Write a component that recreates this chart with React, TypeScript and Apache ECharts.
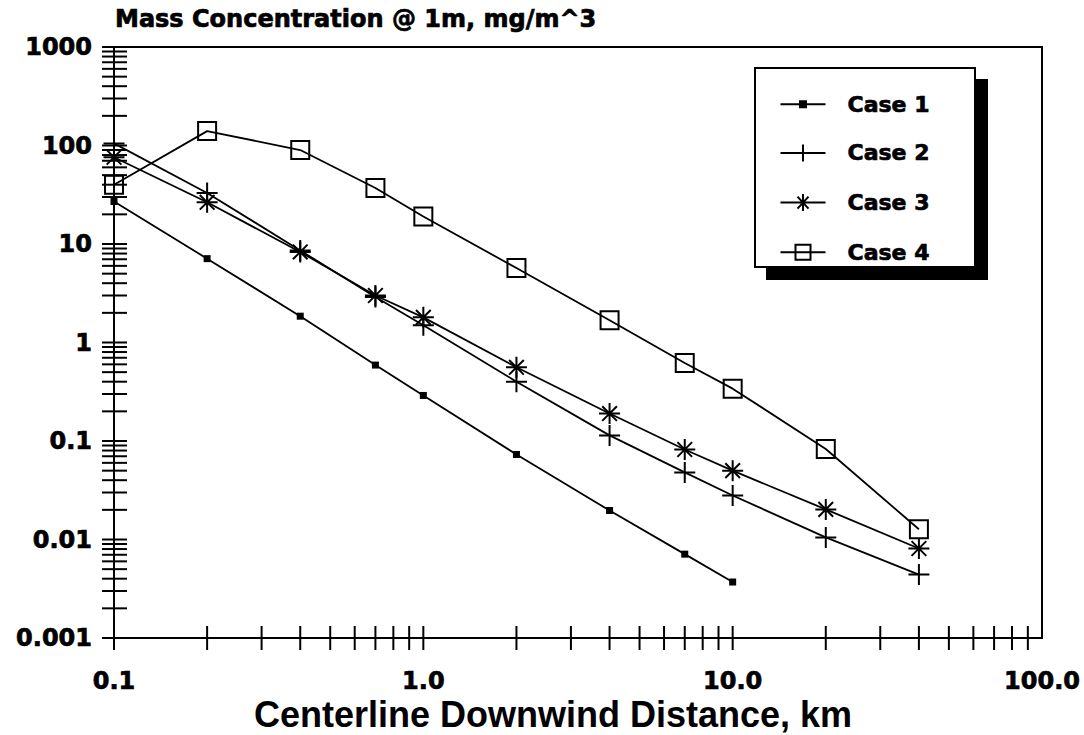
import React, { useEffect, useRef } from 'react';
import * as echarts from 'echarts';

// Downwind distance, km
const distances = [0.1, 0.2, 0.4, 0.7, 1.0, 2.0, 4.0, 7.0, 10, 20, 40];
// Mass concentration @ 1m, mg/m^3
const case1 = [27, 7.1, 1.85, 0.59, 0.29, 0.073, 0.0197, 0.0071, 0.0037];
const case2 = [105, 33, 8.6, 2.9, 1.5, 0.4, 0.114, 0.048, 0.028, 0.0105, 0.0044];
const case3 = [76, 26.5, 8.3, 3.0, 1.8, 0.56, 0.19, 0.082, 0.05, 0.0202, 0.0081];
const case4 = [40, 140, 90, 37, 19, 5.7, 1.68, 0.62, 0.34, 0.083, 0.0127];

const seriesNames = ['Case 1', 'Case 2', 'Case 3', 'Case 4'];
const xTickLabels = ['0.1', '1.0', '10.0', '100.0'];
const yTickLabels = ['0.001', '0.01', '0.1', '1', '10', '100', '1000'];
const xAxisTitle = 'Centerline Downwind Distance, km';
const chartTitle = 'Mass Concentration @ 1m, mg/m^3';

const X_MIN = 0.1;
const X_MAX = 100;
const Y_MIN = 0.001;
const Y_MAX = 1000;

const mantissas = [1, 2, 3, 4, 5, 6, 7, 8, 9];
const xDecades = [0.1, 1, 10];
const yDecades = [0.001, 0.01, 0.1, 1, 10, 100];

const BOLD_FONT = 'DejaVu Sans';
const heavy = { textBorderColor: '#000', textBorderWidth: 0.7 };

export default function App() {
  const ref = useRef<HTMLDivElement>(null);

  useEffect(() => {
    if (!ref.current) return;
    const chart = echarts.init(ref.current, undefined, { renderer: 'svg' });

    const xTicks = xDecades.flatMap((d) => mantissas.map((m) => m * d));
    const yTicks = [...yDecades.flatMap((d) => mantissas.map((m) => m * d)), Y_MAX];

    const pair = (vals: number[]) => vals.map((v, i) => [distances[i], v]);

    const plusPath = 'path://M0,10L20,10M10,0L10,20';
    const starPath = 'path://M10,0L10,20M0,10L20,10M3,3L17,17M17,3L3,17';

    const legendIcons = [
      'path://M0,0M62,20M0,10L45,10M19.5,7h6v6h-6z',
      'path://M0,0M62,20M0,10L45,10M22.5,1.5L22.5,18.5',
      'path://M0,0M62,20M0,10L45,10M22.5,1.5L22.5,18.5M17,4L28,16M28,4L17,16',
      'path://M0,0M62,20M0,10L45,10M15,2.5h15v15h-15z',
    ];

    const lineStyle = { color: '#000', width: 1.8 };

    const option: any = {
      animation: false,
      backgroundColor: '#fff',
      title: {
        text: chartTitle,
        left: 115,
        top: 7,
        padding: 0,
        textStyle: { fontFamily: BOLD_FONT, fontWeight: 'bold', fontSize: 24, color: '#000', ...heavy },
      },
      grid: {
        left: 114,
        right: 42,
        top: 47,
        bottom: 97,
        show: true,
        borderColor: '#000',
        borderWidth: 2,
        backgroundColor: 'transparent',
        containLabel: false,
        outerBoundsMode: 'none',
      },
      legend: {
        data: seriesNames.map((n, i) => ({
          name: n,
          icon: legendIcons[i],
          itemStyle: {
            color: i === 0 ? '#000' : 'none',
            borderColor: '#000',
            borderWidth: 2,
          },
        })),
        orient: 'vertical',
        left: 778,
        top: 93,
        padding: 0,
        itemWidth: 62,
        itemHeight: 20,
        itemGap: 24.7,
        selectedMode: false,
        z: 10,
        textStyle: {
          fontFamily: BOLD_FONT,
          fontWeight: 'bold',
          fontSize: 22,
          lineHeight: 20,
          color: '#000',
          ...heavy,
        },
      },
      graphic: [
        {
          type: 'rect',
          z: 5,
          shape: { x: 766, y: 79, width: 222, height: 201 },
          style: { fill: '#000' },
          silent: true,
        },
        {
          type: 'rect',
          z: 6,
          shape: { x: 755, y: 68, width: 220, height: 199 },
          style: { fill: '#fff', stroke: '#000', lineWidth: 2 },
          silent: true,
        },
        {
          type: 'text',
          z: 6,
          x: 553,
          y: 714,
          silent: true,
          style: {
            text: xAxisTitle,
            fontFamily: 'Liberation Sans',
            fontWeight: 'bold',
            fontSize: 36,
            fill: '#000',
            align: 'center',
            verticalAlign: 'middle',
            textAlign: 'center',
            textVerticalAlign: 'middle',
          },
        },
      ],
      xAxis: {
        type: 'log',
        logBase: 10,
        min: X_MIN,
        max: X_MAX,
        axisLine: { show: false },
        axisTick: { show: false },
        splitLine: { show: false },
        axisLabel: {
          margin: 31,
          fontFamily: BOLD_FONT,
          fontWeight: 'bold',
          fontSize: 24,
          lineHeight: 24,
          color: '#000',
          ...heavy,
          formatter: (v: number) => xTickLabels[Math.round(Math.log10(v / X_MIN))] ?? '',
        },
      },
      yAxis: {
        type: 'log',
        logBase: 10,
        min: Y_MIN,
        max: Y_MAX,
        axisLine: { show: false },
        axisTick: { show: false },
        splitLine: { show: false },
        axisLabel: {
          margin: 22,
          fontFamily: BOLD_FONT,
          fontWeight: 'bold',
          fontSize: 24,
          color: '#000',
          ...heavy,
          formatter: (v: number) => yTickLabels[Math.round(Math.log10(v / Y_MIN))] ?? '',
        },
      },
      series: [
        {
          name: 'Case 1',
          type: 'line',
          data: pair(case1),
          symbol: 'rect',
          symbolSize: 7,
          itemStyle: { color: '#000' },
          lineStyle,
          z: 3,
        },
        {
          name: 'Case 2',
          type: 'line',
          data: pair(case2),
          symbol: plusPath,
          symbolSize: 21,
          itemStyle: { color: 'none', borderColor: '#000', borderWidth: 2 },
          lineStyle,
          z: 3,
        },
        {
          name: 'Case 3',
          type: 'line',
          data: pair(case3),
          symbol: starPath,
          symbolSize: 21,
          itemStyle: { color: 'none', borderColor: '#000', borderWidth: 2 },
          lineStyle,
          z: 3,
        },
        {
          name: 'Case 4',
          type: 'line',
          data: pair(case4),
          symbol: 'rect',
          symbolSize: 18,
          itemStyle: { color: 'none', borderColor: '#000', borderWidth: 2 },
          lineStyle,
          z: 3,
        },
        {
          name: 'xticks',
          type: 'custom',
          silent: true,
          z: 4,
          data: xTicks.map((v) => [v, Y_MIN]),
          renderItem: (_p: any, api: any) => {
            const p = api.coord([api.value(0), api.value(1)]);
            return {
              type: 'line',
              shape: { x1: p[0], y1: p[1] - 12, x2: p[0], y2: p[1] + 12 },
              style: { stroke: '#000', lineWidth: 2 },
            };
          },
        },
        {
          name: 'yticks',
          type: 'custom',
          silent: true,
          z: 4,
          data: yTicks.map((v) => [X_MIN, v]),
          renderItem: (_p: any, api: any) => {
            const p = api.coord([api.value(0), api.value(1)]);
            return {
              type: 'line',
              shape: { x1: p[0] - 12, y1: p[1], x2: p[0] + 13, y2: p[1] },
              style: { stroke: '#000', lineWidth: 2 },
            };
          },
        },
      ],
    };

    chart.setOption(option);
    return () => chart.dispose();
  }, []);

  return <div ref={ref} style={{ width: 1084, height: 735, position: 'absolute', left: 0, top: 0 }} />;
}
